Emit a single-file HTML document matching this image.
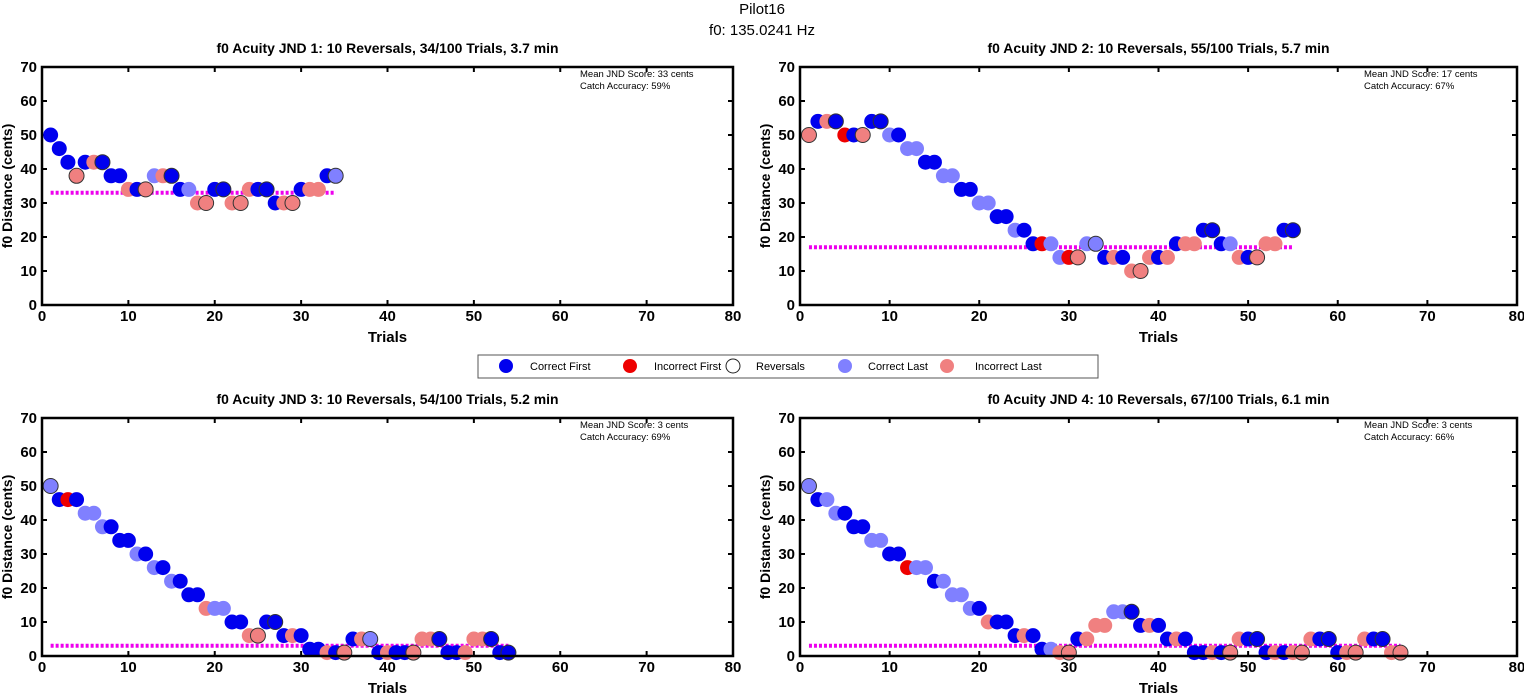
<!DOCTYPE html>
<html><head><meta charset="utf-8"><style>
body{margin:0;background:#fff;}
svg{display:block;font-family:"Liberation Sans",sans-serif;}
</style></head><body>
<svg id="chart" width="1524" height="694" viewBox="0 0 1524 694">
<text x="762" y="14" text-anchor="middle" font-size="15">Pilot16</text>
<text x="762" y="35" text-anchor="middle" font-size="15">f0: 135.0241 Hz</text>
<g>
<rect x="478" y="355" width="620" height="23" fill="#fff" stroke="#555" stroke-width="1"/>
<g><circle cx="506" cy="366" r="7" fill="#0000ee"/><text x="530" y="370" font-size="11">Correct First</text></g>
<g><circle cx="630" cy="366" r="7" fill="#ee0000"/><text x="654" y="370" font-size="11">Incorrect First</text></g>
<g><circle cx="733" cy="366" r="7" fill="#fff" stroke="#222"/><text x="756" y="370" font-size="11">Reversals</text></g>
<g><circle cx="845" cy="366" r="7" fill="#8080ff"/><text x="868" y="370" font-size="11">Correct Last</text></g>
<g><circle cx="947" cy="366" r="7" fill="#f08080"/><text x="975" y="370" font-size="11">Incorrect Last</text></g>
</g>
</svg>
<script>
// Panel data: values (cents), types (C=correct first, I=incorrect first, c=correct last, i=incorrect last), reversal trial numbers
const p1Values=[50,46,42,38,42,42,42,38,38,34,34,34,38,38,38,34,34,30,30,34,34,30,30,34,34,34,30,30,30,34,34,34,38,38];
const p1Types="CCCiCiCCCiCiciCCciiCCiiiCCCiiCiiCc";
const p1Rev=[4,7,12,15,19,21,23,26,29,34];
const p2Values=[50,54,54,54,50,50,50,54,54,50,50,46,46,42,42,38,38,34,34,30,30,26,26,22,22,18,18,18,14,14,14,18,18,14,14,14,10,10,14,14,14,18,18,18,22,22,18,18,14,14,14,18,18,22,22];
const p2Types="iCiCICiCCcCccCCccCCccCCcCCIccIiccCiCiiiCiCiiCCCciCiiiCC";
const p2Rev=[1,4,7,9,31,33,38,46,51,55];
const p3Values=[50,46,46,46,42,42,38,38,34,34,30,30,26,26,22,22,18,18,14,14,14,10,10,6,6,10,10,6,6,6,2,2,1,1,1,5,5,5,1,1,1,1,1,5,5,5,1,1,1,5,5,5,1,1];
const p3Types="cCICcccCCCcCcCcCCCiccCCiiCCCiCCCiCiCicCiCCiiiCCCiiiCCCii".slice(0,54);
const p3Rev=[1,25,27,35,38,43,46,52,54];
const p4Values=[50,46,46,42,42,38,38,34,34,30,30,26,26,26,22,22,18,18,14,14,10,10,10,6,6,6,2,2,1,1,5,5,9,9,13,13,13,9,9,9,5,5,5,1,1,1,1,1,5,5,5,1,1,1,1,1,5,5,5,1,1,1,5,5,5,1,1];
const p4Types="cCccCCCccCCIccCccccCiCCCiCCciiCiiiccCCiCCiCCCiCiiCCCiCiiiCCCiiiCCii";
const p4Rev=[1,30,37,48,51,56,59,62,65,67];
const means=[33,17,3,3];
const catchAcc=["59%","67%","69%","66%"];
const titles=["f0 Acuity JND 1: 10 Reversals, 34/100 Trials, 3.7 min","f0 Acuity JND 2: 10 Reversals, 55/100 Trials, 5.7 min","f0 Acuity JND 3: 10 Reversals, 54/100 Trials, 5.2 min","f0 Acuity JND 4: 10 Reversals, 67/100 Trials, 6.1 min"];
const xTicks=[0,10,20,30,40,50,60,70,80];
const yTicks=[0,10,20,30,40,50,60,70];

const NS="http://www.w3.org/2000/svg";
const svg=document.getElementById('chart');
function mk(tag,attrs,parent,txt){const e=document.createElementNS(NS,tag);for(const k in attrs)e.setAttribute(k,attrs[k]);if(txt!==undefined)e.textContent=txt;(parent||svg).appendChild(e);return e;}
const colors={C:"#0000ee",I:"#ee0000",c:"#8080ff",i:"#f08080"};
const panels=[
 {x0:42,x1:733,y0:305,y1:67,v:p1Values,t:p1Types,r:p1Rev},
 {x0:800,x1:1517,y0:305,y1:67,v:p2Values,t:p2Types,r:p2Rev},
 {x0:42,x1:733,y0:656,y1:418,v:p3Values,t:p3Types,r:p3Rev},
 {x0:800,x1:1517,y0:656,y1:418,v:p4Values,t:p4Types,r:p4Rev}];
panels.forEach((p,pi)=>{
 const sx=v=>p.x0+(p.x1-p.x0)*v/80;
 const sy=v=>p.y0+(p.y1-p.y0)*v/70;
 const g=mk('g',{});
 
 
 const tt=mk('text',{x:(p.x0+p.x1)/2,y:p.y1-14,'text-anchor':'middle','font-size':'14','font-weight':'bold',textLength:'342',lengthAdjust:'spacingAndGlyphs'},g,titles[pi]);
 
 
 xTicks.forEach(v=>{
  mk('line',{x1:sx(v),x2:sx(v),y1:p.y0,y2:p.y0-5,stroke:'#000','stroke-width':2},g);
  mk('line',{x1:sx(v),x2:sx(v),y1:p.y1,y2:p.y1+5,stroke:'#000','stroke-width':2},g);
  const t=mk('text',{x:sx(v),y:p.y0+16,'text-anchor':'middle','font-size':'15','font-weight':'bold'},g,String(v));
  
  
 });
 yTicks.forEach(v=>{
  mk('line',{x1:p.x0,x2:p.x0+5,y1:sy(v),y2:sy(v),stroke:'#000','stroke-width':2},g);
  mk('line',{x1:p.x1,x2:p.x1-5,y1:sy(v),y2:sy(v),stroke:'#000','stroke-width':2},g);
  const t=mk('text',{x:p.x0-5,y:sy(v)+5,'text-anchor':'end','font-size':'15','font-weight':'bold'},g,String(v));
  
  
 });
 const xl=mk('text',{x:(p.x0+p.x1)/2,y:p.y0+37,'text-anchor':'middle','font-size':'15','font-weight':'bold'},g,'Trials');
 
 
 const cy=(p.y0+p.y1)/2;
 const yl=mk('text',{x:p.x0-30,y:cy,'text-anchor':'middle','font-size':'14','font-weight':'bold',transform:`rotate(-90 ${p.x0-30} ${cy})`},g,'f0 Distance (cents)');
 
 
 const n1=mk('text',{x:p.x1-153,y:p.y1+10,'font-size':'9.5'},g,'Mean JND Score: '+means[pi]+' cents');
 
 
 const n2=mk('text',{x:p.x1-153,y:p.y1+22,'font-size':'9.5'},g,'Catch Accuracy: '+catchAcc[pi]);
 
 
 const ml=mk('line',{x1:sx(1),x2:sx(p.v.length),y1:sy(means[pi]),y2:sy(means[pi]),stroke:'#ee00ee','stroke-width':4,'stroke-dasharray':'3 2'},g);
 
 
 p.v.forEach((v,i)=>{
  const rev=p.r.includes(i+1);
  const c=mk('circle',{cx:sx(i+1),cy:sy(v),r:7.5,fill:colors[p.t[i]]||'#0000ee',stroke:rev?'#333':'none','stroke-width':1},g);
  
  
 });
 const bx=mk('rect',{x:p.x0,y:p.y1,width:p.x1-p.x0,height:p.y0-p.y1,fill:'none',stroke:'#000','stroke-width':2.5},g);
 
 
});
</script>
</body></html>
